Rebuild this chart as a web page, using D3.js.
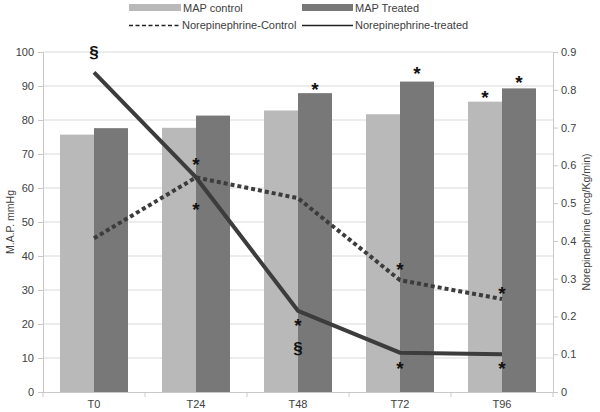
<!DOCTYPE html>
<html><head><meta charset="utf-8">
<script src="https://cdn.jsdelivr.net/npm/d3@7"></script>
<style>body{margin:0;background:#fff}svg{display:block;font-family:"Liberation Sans",Arial,sans-serif}</style>
</head><body><svg id="c" width="600" height="412"></svg>
<script>
const categories = ["T0","T24","T48","T72","T96"];
const mapControl = [75.7, 77.7, 82.8, 81.7, 85.4];
const mapTreated = [77.6, 81.3, 87.9, 91.3, 89.3];
const neControl = [0.407, 0.568, 0.513, 0.296, 0.246];
const neTreated = [0.846, 0.568, 0.215, 0.104, 0.100];
const leftTicks = [0,10,20,30,40,50,60,70,80,90,100];
const rightTicks = [0,0.1,0.2,0.3,0.4,0.5,0.6,0.7,0.8,0.9];
const seriesNames = ["MAP control","MAP Treated","Norepinephrine-Control","Norepinephrine-treated"];
// annotations: category, which axis, value, symbol, bar slot (-1 light, 1 dark, 0 centre)
const annCat   = ["T0","T24","T24","T48","T48","T48","T72","T72","T72","T96","T96","T96","T96"];
const annAxis  = ["R","R","R","L","R","R","L","R","R","L","L","R","R"];
const annValue = [0.898,0.614,0.495,90.5,0.19,0.115,95,0.336,0.076,88.1,92.6,0.274,0.074];
const annSym   = ["§","*","*","*","*","§","*","*","*","*","*","*","*"];
const annSlot  = [0,0,0,1,0,0,1,0,0,-1,1,0,0];

(function(){
const svg = d3.select("#c");
const pTop = 52, pBottom = 392, pLeft = 43, pRight = 553;
const x = d3.scaleBand().domain(categories).range([pLeft, pRight]);
const yL = d3.scaleLinear().domain([0,100]).range([pBottom, pTop]);
const yR = d3.scaleLinear().domain([0,0.9]).range([pBottom, pTop]);
const bw = x.bandwidth();
const xs = d3.scaleBand().domain(["c","t"]).range([bw/6, bw*5/6]);
const textCol = "#404040", gridCol = "#d9d9d9", lightBar = "#b9b9b9", darkBar = "#787878", lineCol = "#3c3c3c";

svg.append("g").selectAll("line").data(leftTicks.slice(1)).join("line")
  .attr("x1", pLeft).attr("x2", pRight).attr("y1", d=>yL(d)).attr("y2", d=>yL(d))
  .attr("stroke", gridCol).attr("stroke-width", 1);

const bars = svg.append("g");
categories.forEach((c,i)=>{
  bars.append("rect").attr("x", x(c)+xs("c")).attr("width", xs.bandwidth())
    .attr("y", yL(mapControl[i])).attr("height", pBottom - yL(mapControl[i])).attr("fill", lightBar);
  bars.append("rect").attr("x", x(c)+xs("t")).attr("width", xs.bandwidth())
    .attr("y", yL(mapTreated[i])).attr("height", pBottom - yL(mapTreated[i])).attr("fill", darkBar);
});

const axL = d3.axisLeft(yL).tickValues(leftTicks).tickSize(5).tickPadding(4);
const gL = svg.append("g").attr("transform", `translate(${pLeft},0)`).call(axL);
const axR = d3.axisRight(yR).tickValues(rightTicks).tickSize(5).tickPadding(3).tickFormat(d=>d===0?"0":d3.format(".1f")(d));
const gR = svg.append("g").attr("transform", `translate(${pRight},0)`).call(axR);
const axB = d3.axisBottom(x).tickSize(0).tickPadding(8);
const gB = svg.append("g").attr("transform", `translate(0,${pBottom})`).call(axB);
[gL,gR,gB].forEach(g=>{
  g.select(".domain").attr("stroke", "#c8c8c8");
  g.selectAll(".tick line").attr("stroke", "#c8c8c8");
  g.selectAll("text").attr("fill", textCol).style("font-size","11px").style("font-family","Liberation Sans, Arial, sans-serif");
});
gB.select(".domain").attr("d", `M${pLeft},0.5H${pRight}`);
svg.append("g").selectAll("line").data(categories.concat(["end"])).join("line")
  .attr("x1", (d,i)=> pLeft + i*x.step()).attr("x2", (d,i)=> pLeft + i*x.step())
  .attr("y1", pBottom).attr("y2", pBottom+5).attr("stroke", "#c8c8c8");

const cx = c => x(c) + bw/2;
const lineGen = d3.line().x((d,i)=>cx(categories[i])).y(d=>yR(d));
svg.append("path").datum(neControl).attr("d", lineGen).attr("fill","none")
  .attr("stroke", lineCol).attr("stroke-width", 4).attr("stroke-dasharray","4,3");
svg.append("path").datum(neTreated).attr("d", lineGen).attr("fill","none")
  .attr("stroke", lineCol).attr("stroke-width", 4);

annCat.forEach((c,i)=>{
  const sc = annAxis[i]==="L" ? yL : yR;
  const xx = cx(c) + annSlot[i]*bw/6;
  const yy = sc(annValue[i]);
  const isStar = annSym[i]==="*";
  const fs = isStar ? 19 : 17;
  svg.append("text").attr("x", xx).attr("y", yy + (isStar ? 0.6*fs : 0.3*fs))
    .attr("text-anchor","middle").attr("fill","#111").style("font-size", fs+"px")
    .style("font-weight","bold").text(annSym[i]);
});

svg.append("text").attr("transform","translate(14,222) rotate(-90)").attr("text-anchor","middle")
  .attr("fill", textCol).style("font-size","10.5px").text("M.A.P. mmHg");
svg.append("text").attr("transform","translate(590,222) rotate(-90)").attr("text-anchor","middle")
  .attr("fill", textCol).style("font-size","10.5px").text("Norepinephrine (mcg/Kg/min)");

const lg = svg.append("g");
lg.append("rect").attr("x",129).attr("y",4).attr("width",52).attr("height",7).attr("fill",lightBar);
lg.append("text").attr("x",183).attr("y",12).text(seriesNames[0]);
lg.append("rect").attr("x",302).attr("y",4).attr("width",51).attr("height",7).attr("fill",darkBar);
lg.append("text").attr("x",355).attr("y",12).text(seriesNames[1]);
lg.append("line").attr("x1",129).attr("x2",181).attr("y1",25.5).attr("y2",25.5)
  .attr("stroke","#222").attr("stroke-width",1.5).attr("stroke-dasharray","4,2.5");
lg.append("text").attr("x",182).attr("y",29).text(seriesNames[2]);
lg.append("line").attr("x1",302).attr("x2",353).attr("y1",25.5).attr("y2",25.5)
  .attr("stroke","#222").attr("stroke-width",1.5);
lg.append("text").attr("x",355).attr("y",29).text(seriesNames[3]);
lg.selectAll("text").attr("fill", textCol).style("font-size","11px");
})();
</script></body></html>
